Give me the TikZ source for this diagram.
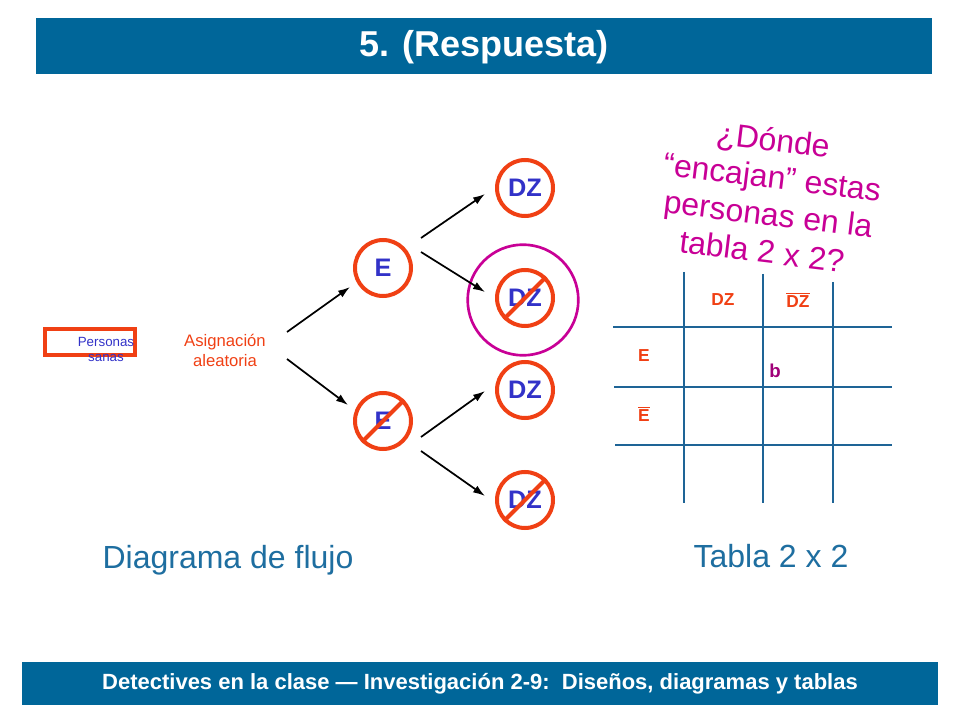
\documentclass[tikz,border=0pt]{standalone}
\usepackage{fontspec}
\setmainfont{Liberation Sans}
\usetikzlibrary{arrows.meta}
\definecolor{barblue}{RGB}{0,102,153}
\definecolor{ored}{RGB}{240,64,20}
\definecolor{eblue}{RGB}{50,50,200}
\definecolor{mag}{RGB}{200,0,150}
\definecolor{lblue}{RGB}{30,110,160}
\definecolor{tline}{RGB}{30,100,150}
\begin{document}
\begin{tikzpicture}[x=0.75pt,y=-0.75pt,
  circ/.style={circle,draw=ored,line width=3pt,minimum size=42pt,inner sep=0pt,text=eblue,font=\bfseries\fontsize{19}{19}\selectfont},
  arr/.style={-{Latex[length=9pt,width=6pt]},line width=1.3pt},
  slash/.style={ored,line width=3pt},
  mq/.style={text=mag,font=\fontsize{24}{24}\selectfont,rotate=-7},
  tl/.style={text=ored,font=\bfseries\fontsize{13}{13}\selectfont}]
\useasboundingbox (0,0) rectangle (960,720);
\fill[barblue] (36,18) rectangle (932,74);
\node[text=white,font=\bfseries\fontsize{27}{27}\selectfont] (title) at (484,47) {5. (Respuesta)};
\fill[barblue] (22,662) rectangle (938,705);
\node[text=white,font=\bfseries\fontsize{16.5}{16.5}\selectfont] (foot) at (480,684) {Detectives en la clase --- Investigación 2-9:\ \ Diseños, diagramas y tablas};
% personas
\node[draw=ored,line width=3pt,minimum width=68pt,minimum height=20pt] (pers) at (90,342) {};
\node[text=eblue,font=\fontsize{10}{10}\selectfont] (pt1) at (106,342) {Personas};
\node[text=eblue,font=\fontsize{10}{10}\selectfont] (pt2) at (106,358) {sanas};
\node[text=ored,font=\fontsize{12.5}{15}\selectfont,align=center] (asig) at (225,350) {Asignación\\aleatoria};
% circles
\node[circ] (e1) at (383,268) {E};
\node[circ] (e2) at (383,421) {E};
\draw[slash] (e2.-135) -- (e2.45);
\node[circ] (d1) at (525,188) {DZ};
\node[circ] (d2) at (525,298) {DZ};
\node[circ] (d3) at (525,390) {DZ};
\node[circ] (d4) at (525,500) {DZ};
\draw[slash] (d2.-135) -- (d2.45);
\draw[slash] (d4.-135) -- (d4.45);
\node[circle,draw=mag,line width=2pt,minimum size=83pt] (big) at (523,300) {};
% arrows
\coordinate (a0) at (287,332); \coordinate (a1) at (350,287);
\coordinate (b0) at (287,359); \coordinate (b1) at (348,405);
\draw[arr] (a0) -- (a1); \draw[arr] (b0) -- (b1);
\coordinate (c0) at (421,238); \coordinate (c1) at (485,194);
\coordinate (f0) at (421,252); \coordinate (f1) at (485,292);
\coordinate (g0) at (421,437); \coordinate (g1) at (485,391);
\coordinate (h0) at (421,451); \coordinate (h1) at (485,496);
\draw[arr] (c0)--(c1); \draw[arr] (f0)--(f1); \draw[arr] (g0)--(g1); \draw[arr] (h0)--(h1);
% question
\node[mq] (q1) at (773,142) {¿Dónde};
\node[mq] (q2) at (772,180) {“encajan” estas};
\node[mq] (q3) at (768,217) {personas en la};
\node[mq] (q4) at (762,251) {tabla 2 x 2?};
% table
\draw[tline,line width=0.8pt] (684,272) -- (684,503) (763,274) -- (763,503) (833,282) -- (833,503);
\draw[tline,line width=0.8pt] (613,327) -- (892,327) (614,387) -- (892,387) (615,445) -- (892,445);
\node[tl] (h1) at (723,300) {DZ};
\node[tl] (h2) at (798,300) {$\overline{\mbox{DZ}}$};
\node[tl] (r1) at (644,356) {E};
\node[tl] (r2) at (644,414) {$\overline{\mbox{E}}$};
\node[text=mag!80!black,font=\bfseries\fontsize{14}{14}\selectfont] (b) at (775,371) {b};
\node[text=lblue,font=\fontsize{24}{24}\selectfont] (df) at (228,560) {Diagrama de flujo};
\node[text=lblue,font=\fontsize{24}{24}\selectfont] (tb) at (771,556) {Tabla 2 x 2};
\end{tikzpicture}
\end{document}
